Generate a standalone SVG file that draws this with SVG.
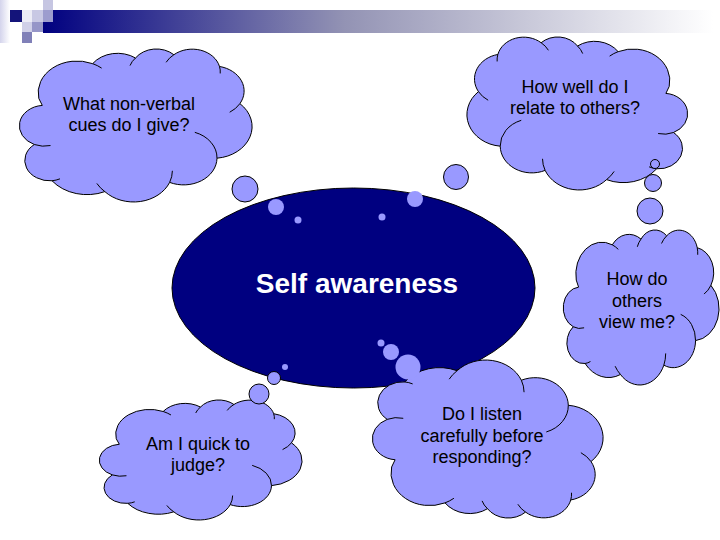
<svg xmlns="http://www.w3.org/2000/svg" width="720" height="540" viewBox="0 0 720 540">
  <style>
    .cloud-outline { fill: #9999FF; stroke: #000; stroke-width: 1; vector-effect: non-scaling-stroke; }
    .cloud-inner { fill: none; stroke: #000; stroke-width: 1; vector-effect: non-scaling-stroke; }
    .bubble { fill: #9999FF; stroke: #000; stroke-width: 1; }
    .bubble-in { fill: #9999FF; stroke: none; }
    .label { font-family: "Liberation Sans", Arial, sans-serif; font-size: 18px; fill: #000; text-anchor: middle; }
    .title { font-family: "Liberation Sans", Arial, sans-serif; font-size: 28px; font-weight: bold; fill: #fff; text-anchor: middle; }
  </style>
  <defs>
    <linearGradient id="barGrad" x1="0" y1="0" x2="1" y2="0">
      <stop offset="0" stop-color="#000080"/>
      <stop offset="0.45" stop-color="#9393b4"/>
      <stop offset="1" stop-color="#ffffff"/>
    </linearGradient>
    <linearGradient id="stripGrad" x1="0" y1="0" x2="1" y2="0">
      <stop offset="0" stop-color="#d4d4ec"/>
      <stop offset="1" stop-color="#ffffff"/>
    </linearGradient>
    <g id="cloudShape">
      <path class="cloud-outline" d="M 9.0 33.3 A 15.63 21.27 0 0 1 30.6 9.9 A 12.34 16.82 0 0 1 47.8 6.1 A 10.10 13.76 0 0 1 63.2 3.9 A 11.24 15.27 0 0 1 81.5 11.8 A 12.35 16.84 0 0 1 89.7 36.8 A 15.68 21.34 0 0 1 80.5 73.5 A 13.39 18.21 0 0 1 61.5 89.8 A 15.63 21.33 0 0 1 35.5 96.0 A 17.87 24.41 0 0 1 14.3 88.7 A 10.09 13.70 0 0 1 7.2 64.3 A 10.06 13.76 0 0 1 10.4 38.0 Z"/>
      <path class="cloud-inner" d="M 30.6 9.9 A 15.63 21.27 0 0 1 34.2 12.9 M 45.6 11.2 A 10.10 13.76 0 0 1 47.8 6.1 M 60.1 9.0 A 11.24 15.27 0 0 1 63.2 3.9 M 81.5 11.8 A 11.24 15.27 0 0 1 81.8 16.5 M 89.7 36.8 A 12.35 16.84 0 0 1 85.6 42.6 M 71.6 56.1 A 13.39 18.21 0 0 1 80.5 73.5 M 62.6 82.0 A 15.63 21.33 0 0 1 61.5 89.8 M 35.5 96.0 A 15.63 21.33 0 0 1 32.3 90.5 M 17.5 87.4 A 10.09 13.70 0 0 1 14.3 88.7 M 13.7 65.0 A 10.06 13.76 0 0 1 7.2 64.3"/>
    </g>
  </defs>

  <rect width="720" height="540" fill="#ffffff"/>

  <g id="header">
    <rect x="0" y="0" width="10" height="43" fill="url(#stripGrad)"/>
    <rect x="43" y="10" width="670" height="23" fill="url(#barGrad)"/>
    <rect x="10" y="10" width="12" height="12" fill="#14147a"/>
    <rect x="22" y="10" width="10" height="12" fill="#ececf6"/>
    <rect x="32" y="10" width="11" height="12" fill="#c8c8e4"/>
    <rect x="43" y="0" width="10" height="10" fill="#c6c6e2"/>
    <rect x="43" y="10" width="10" height="12" fill="#9c9cce"/>
    <rect x="22" y="22" width="10" height="10" fill="#d0d0e8"/>
    <rect x="32" y="22" width="11" height="10" fill="#9696c8"/>
    <rect x="22" y="32" width="10" height="11" fill="#8080b8"/>
  </g>

  <g id="self-awareness">
    <ellipse cx="353.5" cy="288" rx="181.5" ry="100" fill="#000080" stroke="#000" stroke-width="1"/>
  </g>

  <g id="cloud-nonverbal">
    <use href="#cloudShape" transform="translate(16.383 48.926) scale(2.4920 1.4864)"/>
    <text class="label" x="129" y="110">What non-verbal</text>
    <text class="label" x="129" y="131">cues do I give?</text>
  </g>

  <g id="cloud-relate">
    <use href="#cloudShape" transform="translate(690.482 36.926) scale(-2.3636 1.4864)"/>
    <text class="label" x="575" y="93">How well do I</text>
    <text class="label" x="575" y="114">relate to others?</text>
  </g>

  <g id="cloud-view">
    <use href="#cloudShape" transform="translate(561.248 229.925) scale(1.6684 1.5059)"/>
    <text class="label" x="637" y="285">How do</text>
    <text class="label" x="637" y="307">others</text>
    <text class="label" x="637" y="328">view me?</text>
  </g>

  <g id="cloud-listen">
    <use href="#cloudShape" transform="translate(369.406 518.077) scale(2.4706 -1.5350)"/>
    <text class="label" x="482" y="420">Do I listen</text>
    <text class="label" x="482" y="442">carefully before</text>
    <text class="label" x="482" y="463">responding?</text>
  </g>

  <g id="cloud-judge">
    <use href="#cloudShape" transform="translate(96.720 399.942) scale(2.1711 1.1658)"/>
    <text class="label" x="198" y="450">Am I quick to</text>
    <text class="label" x="198" y="471">judge?</text>
  </g>

  <g id="connectors">
    <circle class="bubble" cx="245" cy="189" r="13"/>
    <circle class="bubble-in" cx="276" cy="207" r="8"/>
    <circle class="bubble-in" cx="298" cy="220" r="3.5"/>
    <circle class="bubble" cx="456" cy="177" r="12.5"/>
    <circle class="bubble-in" cx="415" cy="199" r="8"/>
    <circle class="bubble-in" cx="382" cy="217" r="3.5"/>
    <circle class="bubble" cx="655" cy="164" r="4.5"/>
    <circle class="bubble" cx="653" cy="183" r="8.5"/>
    <circle class="bubble" cx="650" cy="211" r="13"/>
    <circle class="bubble-in" cx="381" cy="343" r="3.5"/>
    <circle class="bubble-in" cx="391" cy="352" r="8"/>
    <circle class="bubble-in" cx="408" cy="367" r="12.5"/>
    <circle class="bubble-in" cx="285" cy="367" r="3"/>
    <circle class="bubble" cx="274" cy="378" r="6.5"/>
    <circle class="bubble" cx="259" cy="394" r="10"/>
  </g>

  <text class="title" x="357" y="293">Self awareness</text>
</svg>
